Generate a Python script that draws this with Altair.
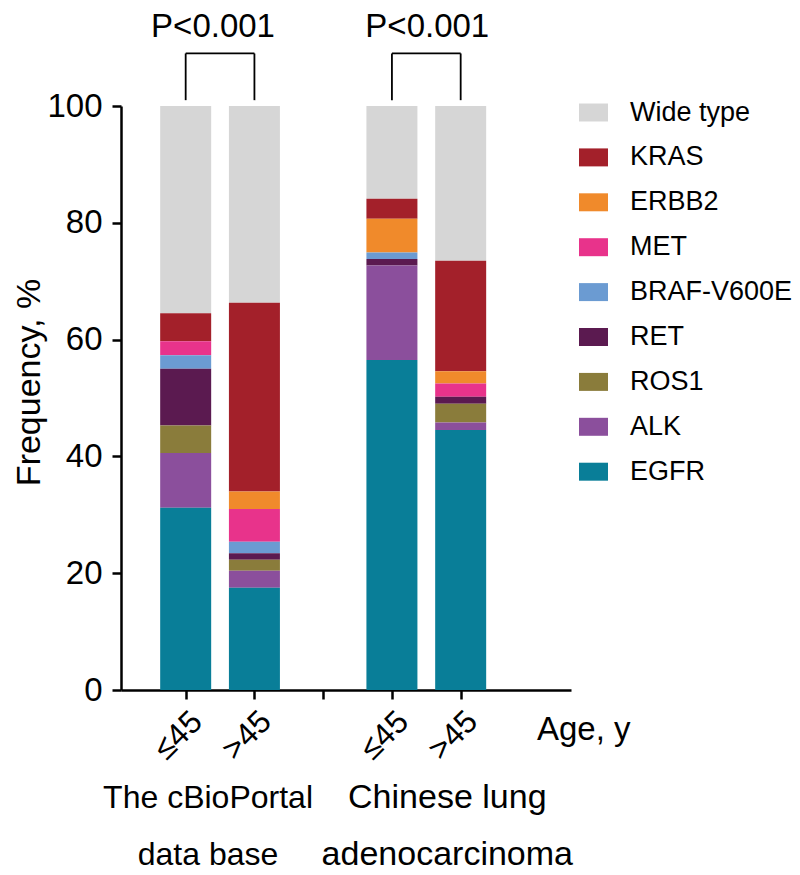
import altair as alt
import pandas as pd

FONT = "Liberation Sans"

# ---- data ----
genes = ["Wide type", "KRAS", "ERBB2", "MET", "BRAF-V600E", "RET", "ROS1", "ALK", "EGFR"]
colors = ["#d6d6d6", "#a3202a", "#f08a2b", "#e8338b", "#6b9bd2", "#5b1a50", "#8a7c3b", "#8b4f9c", "#097e98"]

bar_pos = [1, 2, 4, 5]
age_groups = ["≤45", ">45", "≤45", ">45"]
cohort_labels = ["The cBioPortal\ndata base", "Chinese lung\nadenocarcinoma"]
cohort_bars = [(1, 2), (4, 5)]
p_values = ["P<0.001", "P<0.001"]

wide_type = [35.5, 33.7, 15.9, 26.5]
kras = [4.8, 32.3, 3.4, 18.9]
erbb2 = [0.0, 3.0, 5.8, 2.1]
met = [2.4, 5.6, 0.0, 2.3]
braf = [2.3, 2.0, 1.1, 0.0]
ret = [9.7, 1.1, 1.1, 1.2]
ros1 = [4.7, 1.9, 0.0, 3.2]
alk = [9.4, 2.9, 16.2, 1.3]
egfr = [31.2, 17.5, 56.5, 44.5]

series = [wide_type, kras, erbb2, met, braf, ret, ros1, alk, egfr]

rows = []
for gi, (g, vals) in enumerate(zip(genes, series)):
    for pos, v in zip(bar_pos, vals):
        rows.append({"pos": pos, "gene": g, "value": v, "order": len(genes) - gi})
df = pd.DataFrame(rows)

W, H = 450, 584
x_scale = alt.Scale(domain=[0.132, 6.532], nice=False, zero=False)
y_scale = alt.Scale(domain=[0, 100], nice=False)

label_expr = " : ".join(
    f"datum.value == {p} ? '{a}'" for p, a in zip(bar_pos, age_groups)
) + " : ''"

x_axis = alt.Axis(values=[1, 2, 3, 4, 5], title=None, grid=False,
                  labelExpr=label_expr, labelAngle=-45, labelAlign="center",
                  labelBaseline="middle", labelPadding=36, labelOffset=-8,
                  labelFontSize=32, labelFont=FONT, labelColor="black",
                  tickSize=9, tickWidth=2.5, tickColor="black",
                  domainWidth=2.5, domainColor="black")
y_axis = alt.Axis(values=[0, 20, 40, 60, 80, 100], title="Frequency, %",
                  grid=False, labelFontSize=33, labelFont=FONT, labelColor="black",
                  labelPadding=10, tickSize=9, tickWidth=2.5, tickColor="black",
                  domainWidth=2.5, domainColor="black",
                  titleFont=FONT, titleFontSize=34, titleFontWeight="normal",
                  titleColor="black", titleX=-82, titleY=276,
                  titleAlign="center", titleBaseline="alphabetic")

bars = alt.Chart(df).mark_bar(size=51).encode(
    x=alt.X("pos:Q", scale=x_scale, axis=x_axis, title=None),
    y=alt.Y("value:Q", stack="zero", scale=y_scale, axis=y_axis, title="Frequency, %"),
    color=alt.Color("gene:N", scale=alt.Scale(domain=genes, range=colors),
                    legend=alt.Legend(orient="none", legendX=458, legendY=-8, title=None,
                                      symbolType="M-1,-0.62H1V0.62H-1Z", symbolSize=841,
                                      symbolStrokeWidth=0, labelFontSize=27, labelFont=FONT,
                                      labelColor="black", rowPadding=16.9, labelOffset=22,
                                      labelLimit=400)),
    order=alt.Order("order:Q"),
)

# significance brackets
br_rows = []
top, low = 109.0, 101.0
for i, (a, b) in enumerate(cohort_bars):
    br_rows.append({"x": a, "x2": b, "y": top, "y2": top})
    br_rows.append({"x": a, "x2": a, "y": top, "y2": low})
    br_rows.append({"x": b, "x2": b, "y": top, "y2": low})
brackets = alt.Chart(pd.DataFrame(br_rows)).mark_rule(color="black", strokeWidth=1.8).encode(
    x=alt.X("x:Q", scale=x_scale, axis=x_axis, title=None), x2="x2:Q",
    y=alt.Y("y:Q", scale=y_scale, axis=y_axis, title="Frequency, %"), y2="y2:Q",
)

def p_layer(i, dx):
    a, b = cohort_bars[i]
    d = pd.DataFrame({"x": [(a + b) / 2], "t": [p_values[i]], "y": [111.9]})
    return alt.Chart(d).mark_text(font=FONT, fontSize=33, baseline="alphabetic", align="center",
                                  dx=dx, color="black").encode(
        x=alt.X("x:Q", scale=x_scale, axis=x_axis, title=None),
        y=alt.Y("y:Q", scale=y_scale, axis=y_axis, title="Frequency, %"),
        text="t:N",
    )

def cohort_layer(i, dx, fs):
    a, b = cohort_bars[i]
    d = pd.DataFrame({"x": [(a + b) / 2], "t": [cohort_labels[i]]})
    return alt.Chart(d).mark_text(font=FONT, fontSize=fs, baseline="alphabetic", align="center",
                                  lineBreak="\n", lineHeight=57, dx=dx, color="black").encode(
        x=alt.X("x:Q", scale=x_scale, axis=x_axis, title=None),
        y=alt.value(702),
        text="t:N",
    )

age_title = alt.Chart(pd.DataFrame({"t": ["Age, y"]})).mark_text(
    font=FONT, fontSize=33, align="left", baseline="alphabetic", color="black"
).encode(x=alt.value(416), y=alt.value(634), text="t:N")

chart = alt.layer(
    bars, brackets, p_layer(0, -7), p_layer(1, 1),
    cohort_layer(0, -12, 32), cohort_layer(1, 21, 34), age_title
).properties(
    width=W, height=H,
    autosize=alt.AutoSizeParams(type="none"),
    padding={"left": 113, "top": 98, "right": 221, "bottom": 185},
).configure(background="white").configure_view(stroke=None)

chart.save("out.html", embed_options={"renderer": "svg", "actions": False})
